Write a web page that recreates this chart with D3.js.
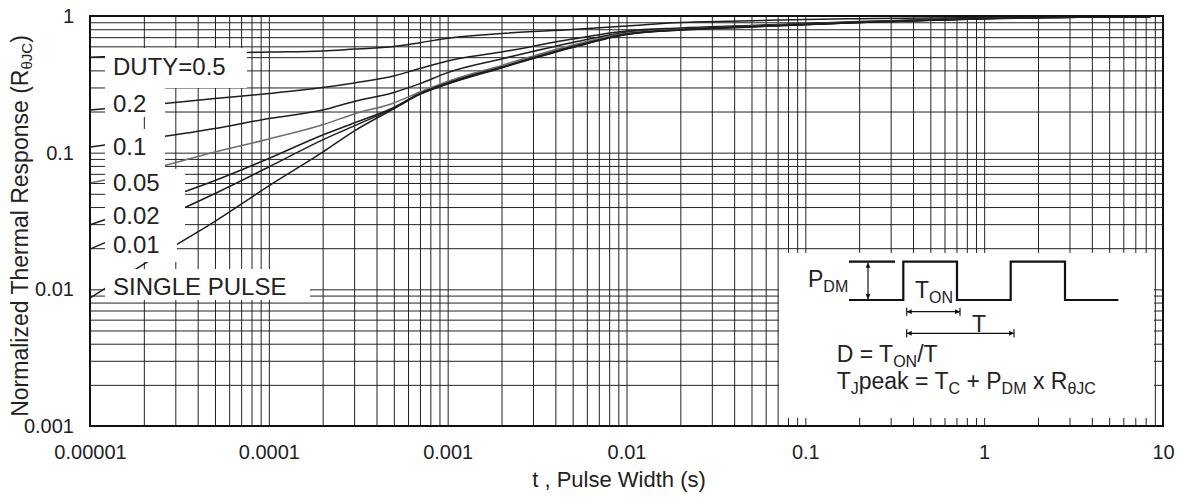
<!DOCTYPE html>
<html>
<head>
<meta charset="utf-8">
<script src="https://cdn.jsdelivr.net/npm/d3@7"></script>
<style>
  body { margin: 0; background: #fff; }
  text { font-family: Arial, "Liberation Sans", sans-serif; fill: #222; }
</style>
</head>
<body>
<div id="chart"></div>
<script>
// pulse width samples (s)
var tPulse = [1e-5, 2e-5, 5e-5, 1e-4, 2e-4, 3e-4, 5e-4, 7e-4, 1e-3, 2e-3, 5e-3,
              1e-2, 2e-2, 5e-2, 0.1, 0.2, 0.5, 1, 2, 5, 8.5];

// normalized thermal response per duty cycle
var zDuty50 = [0.500, 0.515, 0.535, 0.545, 0.555, 0.573, 0.598, 0.638, 0.687, 0.745, 0.797,
               0.845, 0.896, 0.922, 0.943, 0.955, 0.967, 0.973, 0.980, 0.985, 0.988];
var zDuty20 = [0.205, 0.221, 0.249, 0.271, 0.300, 0.324, 0.364, 0.413, 0.469, 0.545, 0.679,
               0.777, 0.817, 0.852, 0.881, 0.912, 0.943, 0.962, 0.977, 0.983, 0.988];
var zDuty10 = [0.110, 0.125, 0.150, 0.178, 0.205, 0.237, 0.276, 0.320, 0.385, 0.485, 0.640,
               0.760, 0.806, 0.845, 0.874, 0.904, 0.938, 0.960, 0.975, 0.983, 0.988];
var zDuty05 = [0.060, 0.0735, 0.101, 0.126, 0.160, 0.192, 0.231, 0.278, 0.332, 0.435, 0.614,
               0.748, 0.799, 0.841, 0.870, 0.901, 0.935, 0.959, 0.975, 0.982, 0.988];
var zDuty02 = [0.0296, 0.0407, 0.0626, 0.0907, 0.1347, 0.165, 0.214, 0.271, 0.324, 0.424, 0.598,
               0.738, 0.794, 0.837, 0.867, 0.898, 0.932, 0.957, 0.973, 0.982, 0.987];
var zDuty01 = [0.0197, 0.0291, 0.0503, 0.0786, 0.124, 0.157, 0.212, 0.269, 0.321, 0.420, 0.593,
               0.735, 0.791, 0.834, 0.865, 0.897, 0.930, 0.956, 0.972, 0.981, 0.987];
var zSingle = [0.00865, 0.0153, 0.0314, 0.0571, 0.101, 0.144, 0.209, 0.267, 0.318, 0.417, 0.588,
               0.731, 0.789, 0.831, 0.864, 0.895, 0.929, 0.954, 0.970, 0.981, 0.987];

var curveLabels = ['DUTY=0.5', '0.2', '0.1', '0.05', '0.02', '0.01', 'SINGLE PULSE'];

// axis tick labels
var xTickValues = [1e-5, 1e-4, 1e-3, 1e-2, 1e-1, 1, 10];
var xTickLabels = ['0.00001', '0.0001', '0.001', '0.01', '0.1', '1', '10'];
var yTickValues = [0.001, 0.01, 0.1, 1];
var yTickLabels = ['0.001', '0.01', '0.1', '1'];

var svgWidth = 1180;
var svgHeight = 500;
var margin = { top: 16, right: 17, bottom: 74, left: 90 };
var chartWidth = svgWidth - margin.left - margin.right;
var chartHeight = svgHeight - margin.top - margin.bottom;

var svg = d3.select('#chart')
    .append('svg')
    .attr('width', svgWidth)
    .attr('height', svgHeight);

var chartGroup = svg.append('g')
    .attr('transform', 'translate(' + margin.left + ',' + margin.top + ')');

var xLogScale = d3.scaleLog().domain([1e-5, 10]).range([0, chartWidth]);
var yLogScale = d3.scaleLog().domain([0.001, 1]).range([chartHeight, 0]);

// 1..9 per decade grid
function decadeGrid(lo, hi) {
    var vals = [];
    for (var e = lo; e < hi; e++) {
        for (var m = 1; m <= 9; m++) vals.push(m * Math.pow(10, e));
    }
    vals.push(Math.pow(10, hi));
    return vals;
}

chartGroup.append('g')
    .attr('class', 'grid')
    .attr('transform', 'translate(0,' + chartHeight + ')')
    .call(d3.axisBottom(xLogScale).tickValues(decadeGrid(-5, 1)).tickSize(-chartHeight).tickFormat(''));

chartGroup.append('g')
    .attr('class', 'grid')
    .call(d3.axisLeft(yLogScale).tickValues(decadeGrid(-3, 0)).tickSize(-chartWidth).tickFormat(''));

chartGroup.selectAll('.grid path').remove();
chartGroup.selectAll('.grid line').attr('stroke', '#222').attr('stroke-width', 1);

// curves
var lineGen = d3.line()
    .x(function (d, i) { return xLogScale(tPulse[i]); })
    .y(function (d) { return yLogScale(d); })
    .curve(d3.curveMonotoneX);

var allCurves = [zDuty50, zDuty20, zDuty10, zDuty05, zDuty02, zDuty01, zSingle];
var curveColors = ['#1e1e1e', '#1e1e1e', '#1e1e1e', '#6e6e6e', '#1e1e1e', '#1e1e1e', '#1e1e1e'];

chartGroup.selectAll('.curve')
    .data(allCurves)
    .enter()
    .append('path')
    .attr('class', 'curve')
    .attr('d', lineGen)
    .attr('fill', 'none')
    .attr('stroke', function (d, i) { return curveColors[i]; })
    .attr('stroke-width', 1.5);

// white label boxes (screen coords)
var labelBoxes = [
    [105, 48, 247, 88], [105, 88, 165, 117], [105, 129, 165, 169],
    [105, 169, 185, 230], [105, 230, 177, 262], [105, 269, 310, 300]
];
var labelBaselines = [75, 112, 154.5, 191, 224, 252.5, 295];

svg.selectAll('.lblbox')
    .data(labelBoxes)
    .enter()
    .append('rect')
    .attr('class', 'lblbox')
    .attr('x', function (d) { return d[0]; })
    .attr('y', function (d) { return d[1]; })
    .attr('width', function (d) { return d[2] - d[0]; })
    .attr('height', function (d) { return d[3] - d[1]; })
    .attr('fill', '#fff');

svg.selectAll('.lbl')
    .data(curveLabels)
    .enter()
    .append('text')
    .attr('class', 'lbl')
    .attr('x', 113)
    .attr('y', function (d, i) { return labelBaselines[i]; })
    .attr('font-size', '24px')
    .text(function (d) { return d; });

// inset with pulse diagram
var inset = svg.append('g').attr('transform', 'translate(779,253)');
inset.append('rect').attr('width', 375).attr('height', 165).attr('fill', '#fff');

var defs = svg.append('defs');
defs.append('marker')
    .attr('id', 'arr')
    .attr('viewBox', '0 0 10 10')
    .attr('refX', 10).attr('refY', 5)
    .attr('markerWidth', 7).attr('markerHeight', 5)
    .attr('orient', 'auto-start-reverse')
    .attr('markerUnits', 'userSpaceOnUse')
    .append('path').attr('d', 'M0,0L10,5L0,10z').attr('fill', '#111');

var hi = 8.7, lo = 47;
inset.append('path')
    .attr('d', 'M70,' + hi + 'H116M70,' + lo + 'H124.3V' + hi + 'H178V' + lo + 'H231.7V' + hi + 'H286V' + lo + 'H339.3')
    .attr('fill', 'none').attr('stroke', '#111').attr('stroke-width', 2.2);

inset.append('line')
    .attr('x1', 89).attr('x2', 89).attr('y1', hi + 1).attr('y2', lo - 1)
    .attr('stroke', '#111').attr('stroke-width', 1.2)
    .attr('marker-start', 'url(#arr)').attr('marker-end', 'url(#arr)');

function dimArrow(x1, x2, yy) {
    inset.append('line')
        .attr('x1', x1).attr('x2', x2).attr('y1', yy).attr('y2', yy)
        .attr('stroke', '#111').attr('stroke-width', 1.2)
        .attr('marker-start', 'url(#arr)').attr('marker-end', 'url(#arr)');
    [x1, x2].forEach(function (xx) {
        inset.append('line')
            .attr('x1', xx).attr('x2', xx).attr('y1', yy - 4).attr('y2', yy + 4)
            .attr('stroke', '#111').attr('stroke-width', 1.2);
    });
}
dimArrow(127.7, 181, 58.7);
dimArrow(127.7, 235, 80.3);

function subText(xx, yy, parts) {
    var t = inset.append('text').attr('x', xx).attr('y', yy).attr('font-size', '23px');
    parts.forEach(function (p) {
        var s = t.append('tspan').text(p[0]);
        if (p[1] === 'sub') s.attr('font-size', '16px').attr('dy', 5);
        else if (p[1] === 'up') s.attr('dy', -5);
    });
}
subText(29, 34, [['P'], ['DM', 'sub']]);
subText(136, 45, [['T'], ['ON', 'sub']]);
subText(193, 78.5, [['T']]);
subText(57.7, 109, [['D = T'], ['ON', 'sub'], ['/T', 'up']]);
subText(57.7, 136, [['T'], ['J', 'sub'], ['peak = T', 'up'], ['C', 'sub'], [' + P', 'up'], ['DM', 'sub'], [' x R', 'up'], ['\u03b8JC', 'sub']]);

// frame
chartGroup.append('rect')
    .attr('width', chartWidth).attr('height', chartHeight)
    .attr('fill', 'none').attr('stroke', '#111').attr('stroke-width', 2);

// tick labels
var xAxis = chartGroup.append('g')
    .attr('transform', 'translate(0,' + chartHeight + ')')
    .call(d3.axisBottom(xLogScale).tickValues(xTickValues).tickSize(0).tickPadding(19)
        .tickFormat(function (d, i) { return xTickLabels[i]; }));
var yAxis = chartGroup.append('g')
    .call(d3.axisLeft(yLogScale).tickValues(yTickValues).tickSize(0).tickPadding(16)
        .tickFormat(function (d, i) { return yTickLabels[i]; }));
[xAxis, yAxis].forEach(function (a) {
    a.select('.domain').remove();
    a.selectAll('text').attr('font-size', '20px').attr('font-family', 'Arial, "Liberation Sans", sans-serif').attr('fill', '#222');
});

// axis titles
svg.append('text')
    .attr('x', 619).attr('y', 487)
    .attr('text-anchor', 'middle')
    .attr('font-size', '22px')
    .text('t , Pulse Width (s)');

var yTitle = svg.append('text')
    .attr('transform', 'rotate(-90)')
    .attr('x', -226)
    .attr('y', 28)
    .attr('text-anchor', 'middle')
    .attr('font-size', '23px');
yTitle.append('tspan').text('Normalized Thermal Response (R');
yTitle.append('tspan').text('\u03b8JC').attr('font-size', '15px').attr('dy', 4);
yTitle.append('tspan').text(')').attr('dy', -4);
</script>
</body>
</html>
